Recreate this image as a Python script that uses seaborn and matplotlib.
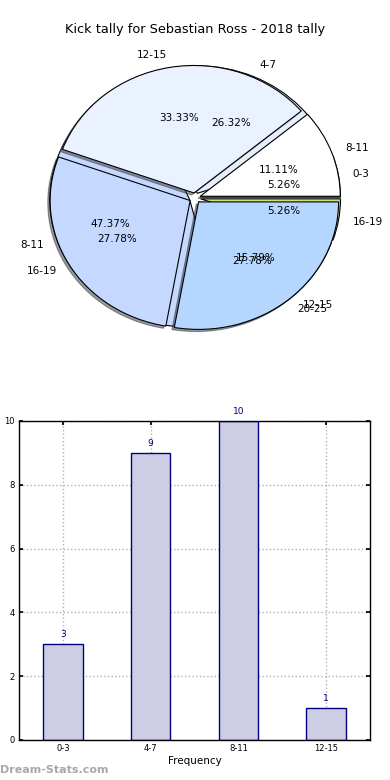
import numpy as np
import matplotlib
matplotlib.use("Agg")
import matplotlib.pyplot as plt
import seaborn as sns
import pandas as pd

sns.set_theme(style="white")
plt.rcParams['font.family'] = ['DejaVu Sans']
plt.rcParams['text.color'] = 'black'
plt.rcParams['axes.labelcolor'] = 'black'
plt.rcParams['xtick.color'] = 'black'
plt.rcParams['ytick.color'] = 'black'

# pie drawn on top (with shadow)
top_labels = ['8-11', '12-15', '16-19', '20-25']
top_counts = [2, 6, 5, 5]
top_colors = ['#ffffff', '#eaf1ff', '#c5d8ff', '#b4d6ff']

# pie drawn underneath
under_labels = ['0-3', '4-7', '8-11', '12-15', '16-19']
under_counts = [1, 5, 9, 3, 1]
under_colors = ['#c9e27c', '#e6eefc', '#c5d8ff', '#b4d6ff', '#c9e27c']

# bar chart
bar_cats = ['0-3', '4-7', '8-11', '12-15']
bar_vals = [3, 9, 10, 1]

fig = plt.figure(figsize=(3.9, 7.8), dpi=100)
fig.text(0.5, 1 - 30 / 780, 'Kick tally for Sebastian Ross - 2018 tally',
         ha='center', va='center', fontsize=9.3)

ax1 = fig.add_axes([0.0692, 0.55, 0.8615, 0.3923])
ax1.pie(under_counts, labels=under_labels, colors=under_colors,
        explode=[0.04] * len(under_counts), autopct='%1.2f%%',
        textprops={'fontsize': 7.5},
        wedgeprops={'edgecolor': 'black', 'linewidth': 0.8, 'zorder': 0.5})
ax1.pie(top_counts, labels=top_labels, colors=top_colors,
        explode=[0.04] * len(top_counts), autopct='%1.2f%%',
        shadow={'ox': -0.012, 'oy': -0.012, 'shade': 0.75},
        textprops={'fontsize': 7.5},
        wedgeprops={'edgecolor': 'black', 'linewidth': 0.8})
ax1.set_aspect('auto')
ax1.set_xlim(-1.2, 1.2)
ax1.set_ylim(-1.2, 1.2)
ax1.axis('off')

ax2 = fig.add_axes([0.0487, 0.0513, 0.9, 0.409])
df = pd.DataFrame({'cat': bar_cats, 'val': bar_vals})
sns.barplot(data=df, x='cat', y='val', ax=ax2, width=0.45, color='#cdcde5',
            saturation=1, edgecolor='#000080', linewidth=1, zorder=2)
for i, v in enumerate(bar_vals):
    ax2.text(i, v + 0.15, str(v), ha='center', va='bottom', fontsize=6.5,
             color='#000080')
ax2.set_xlim(-0.5, 3.5)
ax2.set_ylim(0, 10)
ax2.set_yticks([0, 2, 4, 6, 8, 10])
ax2.grid(True, linestyle=':', color='#b0b0b0', linewidth=1, zorder=0)
ax2.set_axisbelow(True)
ax2.tick_params(axis='both', direction='in', labelsize=6, length=3,
                top=True, right=True, bottom=True, left=True, pad=3)
for s in ax2.spines.values():
    s.set_color('black')
    s.set_linewidth(1)
ax2.set_xlabel('Frequency', fontsize=7.5, labelpad=2)
ax2.set_ylabel('Total Kicks', fontsize=7.5)
ax2.yaxis.set_label_coords(-0.06, 0.5)

fig.text(0.0, 1 - 770 / 780, 'Dream-Stats.com', ha='left', va='center',
         fontsize=8, color='#a8a8a8', fontweight='bold')

fig.savefig('out.png', dpi=100)
